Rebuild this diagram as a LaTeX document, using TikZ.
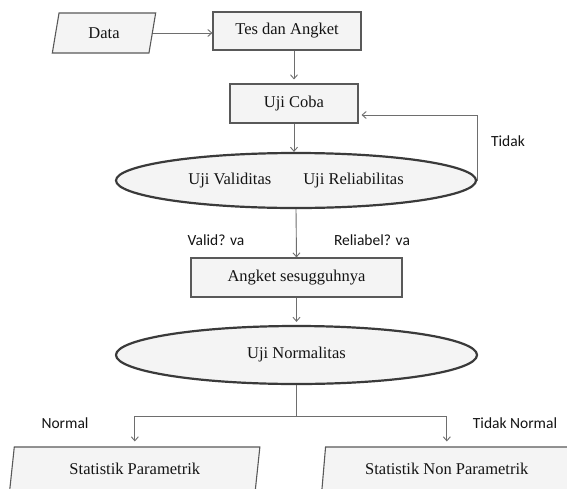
\documentclass[tikz,border=0pt]{standalone}
\usepackage{fontspec}
\setmainfont{Liberation Serif}
\newfontfamily\lblfont{Carlito}
\usetikzlibrary{shapes.geometric,arrows.meta,calc}
\definecolor{boxfill}{HTML}{F4F4F4}
\definecolor{boxline}{HTML}{595959}
\definecolor{ellline}{HTML}{3A3A3A}
\definecolor{conn}{HTML}{6E6E6E}
\definecolor{txt}{HTML}{141414}
\tikzset{
  procbox/.style={draw=boxline, line width=1.1pt, fill=boxfill, rectangle, inner sep=0pt,
    text=txt, font=\fontsize{16.5}{19}\selectfont},
  iobox/.style={draw=boxline, line width=1.1pt, fill=boxfill, trapezium, trapezium left angle=78,
    trapezium right angle=102, trapezium stretches=true, inner sep=0pt,
    text=txt, font=\fontsize{16.5}{19}\selectfont},
  decell/.style={draw=ellline, line width=2.2pt, fill=boxfill, ellipse, inner sep=0pt,
    text=txt, font=\fontsize{16.5}{19}\selectfont},
  lbl/.style={text=txt, font=\lblfont\fontsize{15.5}{18}\selectfont, inner sep=0pt},
  arr/.style={draw=conn, line width=0.9pt, -{Straight Barb[length=4pt,width=7pt]}},
  ln/.style={draw=conn, line width=0.9pt},
}
\begin{document}
\begin{tikzpicture}[x=1pt,y=-1pt]
\useasboundingbox (0,0) rectangle (567,488);
\clip (0,0) rectangle (567,488);
\fill[white] (0,0) rectangle (567,488);

\node[iobox, minimum width=103.5pt, minimum height=40pt] (data) at (104,33) {Data};
\node[procbox, minimum width=148pt, minimum height=38pt] (tes) at (287,31) {Tes dan Angket};
\node[procbox, minimum width=128pt, minimum height=39pt] (coba) at (294,103.5) {Uji Coba};
\node[decell, minimum width=360pt, minimum height=55pt] (e1) at (296,180.5)
  {Uji Validitas\hspace{32pt}Uji Reliabilitas\hspace{20pt}};
\node[procbox, minimum width=211pt, minimum height=39pt] (angket) at (296.5,277.5) {Angket sesugguhnya};
\node[decell, minimum width=361pt, minimum height=58pt] (e2) at (296.5,355) {Uji Normalitas};
\node[iobox, minimum width=250.4pt, minimum height=43pt] (p1) at (134.8,468.5) {Statistik Parametrik};
\node[iobox, minimum width=250.4pt, minimum height=43pt] (p2) at (446.8,468.5) {Statistik Non Parametrik};

\node[lbl] (tidak) at (508,141) {Tidak};
\node[lbl] (valid) at (216,240) {Valid? va};
\node[lbl] (reliabel) at (372,240) {Reliabel? va};
\node[lbl] (normal) at (65,423) {Normal};
\node[lbl] (tnormal) at (515,423) {Tidak Normal};

\coordinate (split) at (296.5,416);
\coordinate (back) at ($(coba.east)+(0,11.5)$);

\draw[arr] (data.east) -- (data.east -| tes.west);
\draw[arr, shorten >=4pt] (coba.north |- tes.south) -- (coba.north);
\draw[arr] (coba.south) -- (coba.south |- e1.north);
\draw[arr, shorten >=3pt] (e1.east) |- (back);
\draw[arr] (e1.south) -- (angket.north);
\draw[arr, shorten >=3pt] (angket.south) -- (e2.north);
\draw[ln] (e2.south) -- (split);
\draw[arr, shorten >=5pt] (split) -| (p1.north);
\draw[arr, shorten >=5pt] (split) -| (p2.north);
\end{tikzpicture}
\end{document}
